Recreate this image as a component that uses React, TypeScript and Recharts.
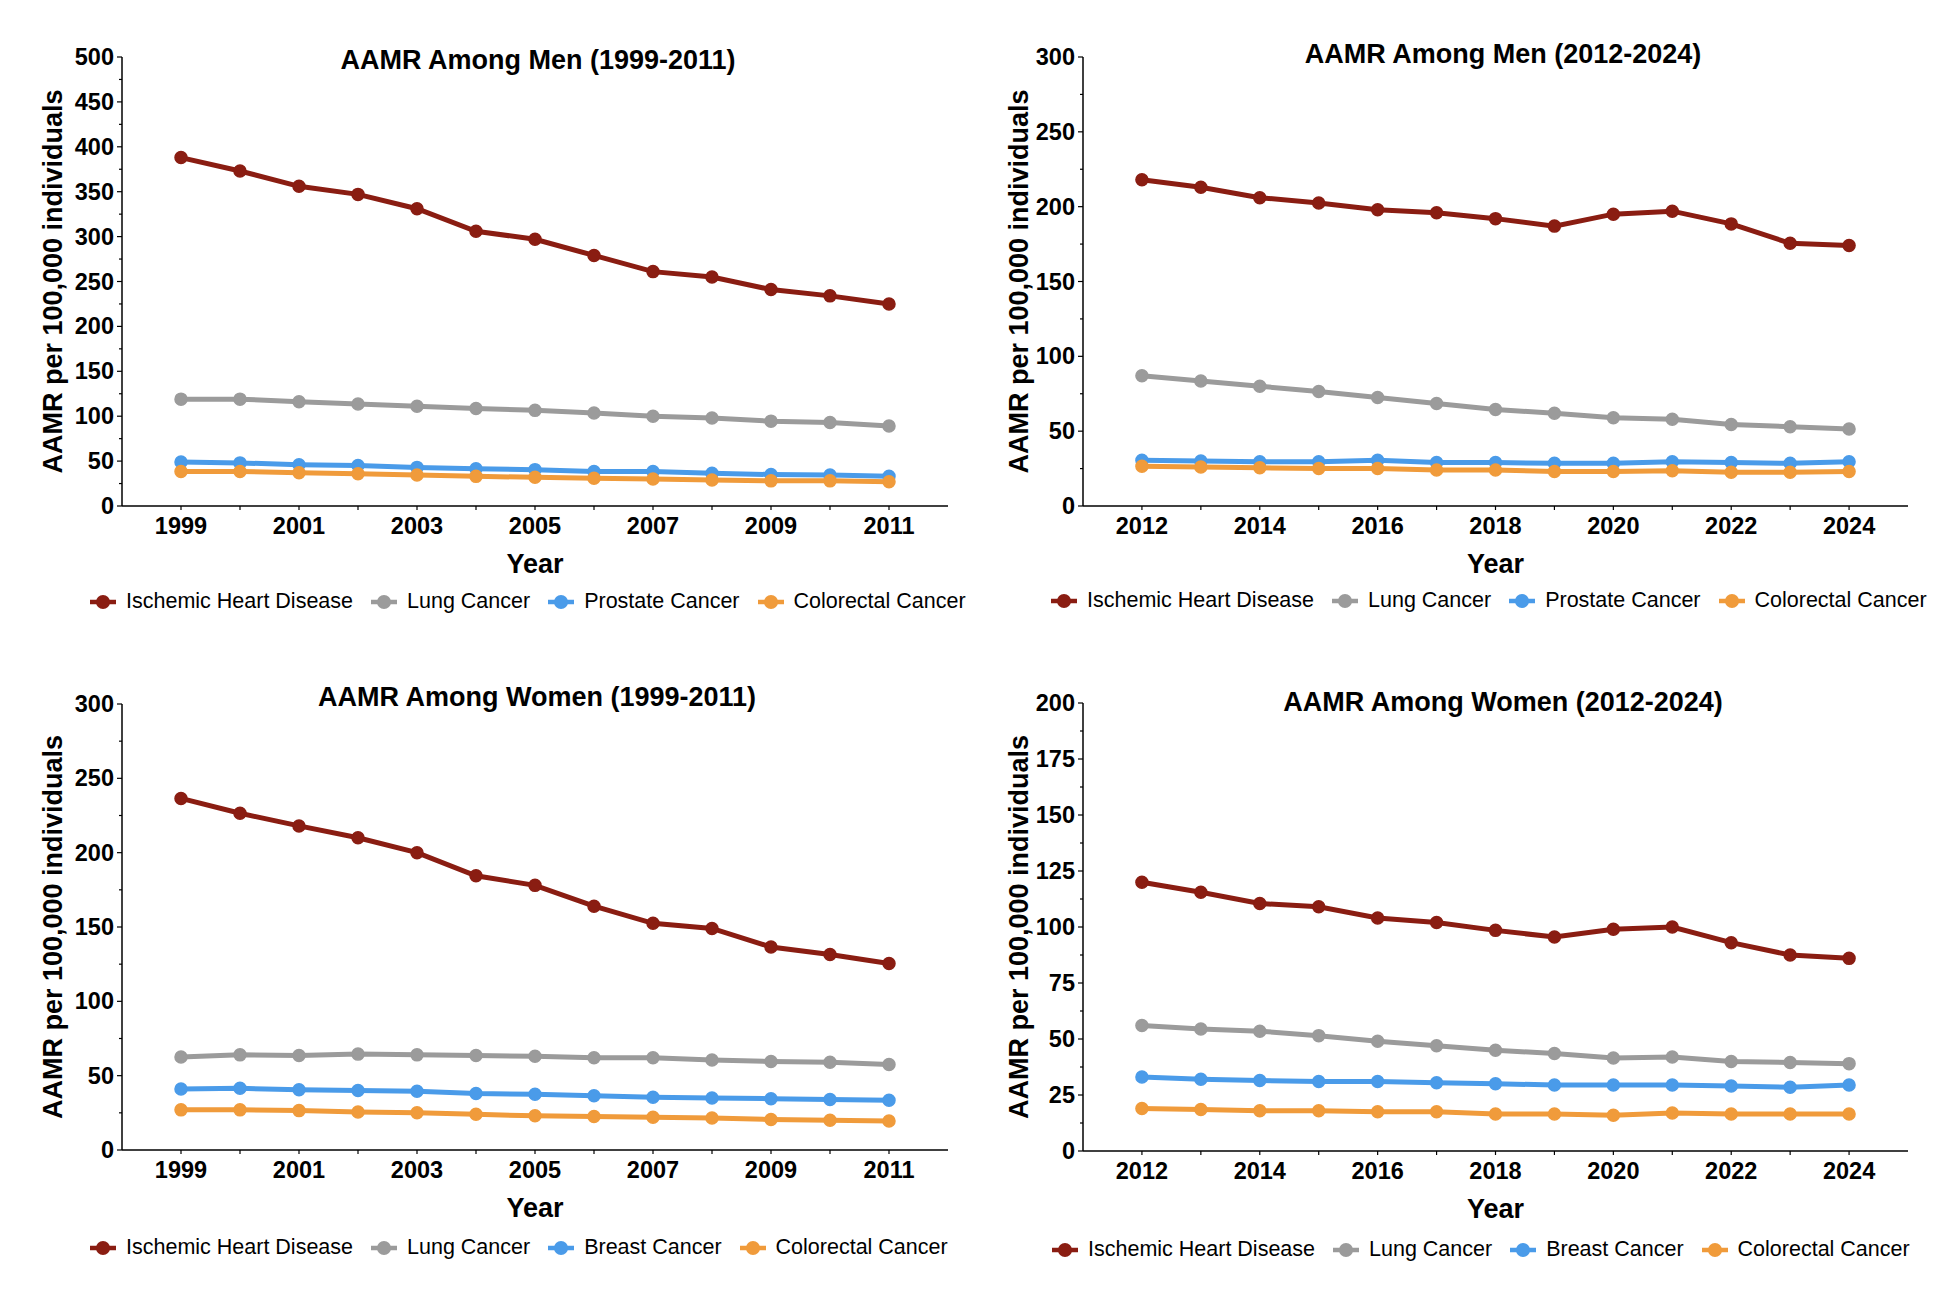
import { LineChart, Line, XAxis, YAxis, Legend } from "recharts";

const yearsEarly = [1999, 2000, 2001, 2002, 2003, 2004, 2005, 2006, 2007, 2008, 2009, 2010, 2011];
const yearsLate = [2012, 2013, 2014, 2015, 2016, 2017, 2018, 2019, 2020, 2021, 2022, 2023, 2024];

// Men 1999-2011
const menEarlyHeart = [388, 373, 356, 347, 331, 306, 297, 279, 261, 255, 241, 234, 225];
const menEarlyLung = [119, 119, 116, 113.5, 111, 108.5, 106.5, 103.5, 100, 98, 94.5, 93, 89];
const menEarlyProstate = [49, 48, 46, 45, 43, 41.5, 40.5, 38.5, 38.5, 36.5, 35, 34.5, 33];
const menEarlyColorectal = [38.5, 38.5, 37, 36, 34.5, 33, 32, 31, 30, 29, 28, 28, 27];

// Men 2012-2024
const menLateHeart = [218, 213, 206, 202.5, 198, 196, 192, 187, 195, 197, 188.5, 175.5, 174];
const menLateLung = [87, 83.5, 80, 76.5, 72.5, 68.5, 64.5, 62, 59, 58, 54.5, 53, 51.5];
const menLateProstate = [30.5, 30, 29.5, 29.5, 30.5, 29, 29, 28.5, 28.5, 29.5, 29, 28.5, 29.5];
const menLateColorectal = [26.5, 26, 25.5, 25, 25, 24, 24, 23, 23, 23.5, 22.5, 22.5, 23];

// Women 1999-2011
const womenEarlyHeart = [236.5, 226.5, 218, 210, 200, 184.5, 178, 164, 152.5, 149, 136.5, 131.5, 125.5];
const womenEarlyLung = [62.5, 64, 63.5, 64.5, 64, 63.5, 63, 62, 62, 60.5, 59.5, 59, 57.5];
const womenEarlyBreast = [41, 41.5, 40.5, 40, 39.5, 38, 37.5, 36.5, 35.5, 35, 34.5, 34, 33.5];
const womenEarlyColorectal = [27, 27, 26.5, 25.5, 25, 24, 23, 22.5, 22, 21.5, 20.5, 20, 19.5];

// Women 2012-2024
const womenLateHeart = [120, 115.5, 110.5, 109, 104, 102, 98.5, 95.5, 99, 100, 93, 87.5, 86];
const womenLateLung = [56, 54.5, 53.5, 51.5, 49, 47, 45, 43.5, 41.5, 42, 40, 39.5, 39];
const womenLateBreast = [33, 32, 31.5, 31, 31, 30.5, 30, 29.5, 29.5, 29.5, 29, 28.5, 29.5];
const womenLateColorectal = [19, 18.5, 18, 18, 17.5, 17.5, 16.5, 16.5, 16, 17, 16.5, 16.5, 16.5];

const menEarlyTicks = [0, 50, 100, 150, 200, 250, 300, 350, 400, 450, 500];
const menLateTicks = [0, 50, 100, 150, 200, 250, 300];
const womenEarlyTicks = [0, 50, 100, 150, 200, 250, 300];
const womenLateTicks = [0, 25, 50, 75, 100, 125, 150, 175, 200];

const COLORS = {
  heart: "#8a1d12",
  lung: "#9b9b9b",
  third: "#4a9be9",
  colorectal: "#f09b3b",
};

const FONT = "'Liberation Sans', Arial, Helvetica, sans-serif";
const W = 979;
const H = 653;
const XAXIS_H = 40;

function withMinors(majors: number[]) {
  const out: number[] = [];
  majors.forEach((v, i) => {
    out.push(v);
    if (i < majors.length - 1) out.push((v + majors[i + 1]) / 2);
  });
  return out;
}

function YTick(props: any) {
  const { x, y, payload, majors } = props;
  const major = majors.includes(payload.value);
  return (
    <g>
      <line x1={x - (major ? 5 : 3)} x2={x} y1={y} y2={y} stroke="#000" strokeWidth={1.2} />
      {major && (
        <text x={x - 8} y={y} textAnchor="end" dominantBaseline="central" fontSize={23.5} fontWeight={700} fontFamily={FONT} fill="#000">
          {payload.value}
        </text>
      )}
    </g>
  );
}

function XTick(props: any) {
  const { x, y, payload, first } = props;
  const labelled = (payload.value - first) % 2 === 0;
  return (
    <g>
      <line x1={x} x2={x} y1={y} y2={y + 4} stroke="#000" strokeWidth={1.2} />
      {labelled && (
        <text x={x} y={y + 20} textAnchor="middle" dominantBaseline="central" fontSize={23.5} fontWeight={700} fontFamily={FONT} fill="#000">
          {payload.value}
        </text>
      )}
    </g>
  );
}

function YTitle(props: any) {
  const { viewBox, gap } = props;
  const axisX = viewBox.x + viewBox.width;
  const cx = axisX - gap;
  const cy = viewBox.y + viewBox.height / 2;
  return (
    <text x={cx} y={cy} transform={`rotate(-90 ${cx} ${cy})`} textAnchor="middle" dominantBaseline="central" fontSize={27} fontWeight={700} fontFamily={FONT} fill="#000">
      AAMR per 100,000 individuals
    </text>
  );
}

function XTitle(props: any) {
  const { viewBox } = props;
  const cx = viewBox.x + viewBox.width / 2;
  const cy = viewBox.y + 58;
  return (
    <text x={cx} y={cy} textAnchor="middle" dominantBaseline="central" fontSize={27} fontWeight={700} fontFamily={FONT} fill="#000">
      Year
    </text>
  );
}

function LegendContent(props: any) {
  const items: { name: string; color: string }[] = props.items || [];
  return (
    <div style={{ display: "flex", alignItems: "center", fontFamily: FONT, fontSize: 21.5, color: "#000", whiteSpace: "nowrap" }}>
      {items.map((it) => (
        <div key={it.name} style={{ display: "flex", alignItems: "center", marginRight: 18 }}>
          <svg width={26} height={16} style={{ marginRight: 10 }}>
            <line x1={0} x2={26} y1={8} y2={8} stroke={it.color} strokeWidth={4.5} />
            <circle cx={13} cy={8} r={7} fill={it.color} />
          </svg>
          <span>{it.name}</span>
        </div>
      ))}
    </div>
  );
}

type PanelProps = {
  title: string;
  years: number[];
  heart: number[];
  lung: number[];
  third: number[];
  colorectal: number[];
  thirdName: string;
  ticks: number[];
  left: number;
  top: number;
  plot: { left: number; right: number; top: number; bottom: number };
  titlePos: { x: number; y: number };
  legendLeft: number;
  legendY: number;
  yTitleGap: number;
};

function Panel(p: PanelProps) {
  const data = p.years.map((year, i) => ({
    year,
    heart: p.heart[i],
    lung: p.lung[i],
    third: p.third[i],
    colorectal: p.colorectal[i],
  }));
  const first = p.years[0];
  const last = p.years[p.years.length - 1];
  const yMax = p.ticks[p.ticks.length - 1];
  const dot = (c: string) => ({ r: 6, fill: c, stroke: c, strokeWidth: 1.5 });
  const series = [
    { key: "heart", name: "Ischemic Heart Disease", color: COLORS.heart },
    { key: "lung", name: "Lung Cancer", color: COLORS.lung },
    { key: "third", name: p.thirdName, color: COLORS.third },
    { key: "colorectal", name: "Colorectal Cancer", color: COLORS.colorectal },
  ];
  return (
    <div style={{ position: "absolute", left: p.left, top: p.top, width: W, height: H }}>
      <LineChart
        width={W}
        height={H}
        data={data}
        margin={{ top: p.plot.top, right: W - p.plot.right, left: 0, bottom: H - p.plot.bottom - XAXIS_H }}
      >
        <XAxis
          dataKey="year"
          type="number"
          domain={[first - 1, last + 1]}
          ticks={p.years}
          interval={0}
          height={XAXIS_H}
          tickSize={0}
          tickMargin={0}
          tickLine={false}
          axisLine={{ stroke: "#000", strokeWidth: 1.5 }}
          tick={<XTick first={first} />}
          label={<XTitle />}
        />
        <YAxis
          type="number"
          domain={[0, yMax]}
          ticks={withMinors(p.ticks)}
          interval={0}
          width={p.plot.left}
          tickSize={0}
          tickMargin={0}
          tickLine={false}
          axisLine={{ stroke: "#000", strokeWidth: 1.5 }}
          tick={<YTick majors={p.ticks} />}
          label={<YTitle gap={p.yTitleGap} />}
        />
        <Legend
          layout="horizontal"
          verticalAlign="middle"
          align="center"
          content={<LegendContent items={series} />}
          wrapperStyle={{ left: p.legendLeft, top: p.legendY - 14, width: W - p.legendLeft, height: 28 }}
        />
        {series.map((s) => (
          <Line
            key={s.key}
            type="linear"
            dataKey={s.key}
            name={s.name}
            stroke={s.color}
            strokeWidth={5}
            dot={dot(s.color)}
            activeDot={false}
            isAnimationActive={false}
          />
        ))}
      </LineChart>
      <div
        style={{
          position: "absolute",
          left: p.titlePos.x - 350,
          top: p.titlePos.y - 16,
          width: 700,
          lineHeight: "32px",
          textAlign: "center",
          fontFamily: FONT,
          fontWeight: 700,
          fontSize: 27,
          color: "#000",
        }}
      >
        {p.title}
      </div>
    </div>
  );
}

export default function App() {
  return (
    <div style={{ position: "absolute", left: 0, top: 0, width: 1958, height: 1306, background: "#fff" }}>
      <Panel
        title="AAMR Among Men (1999-2011)"
        years={yearsEarly}
        heart={menEarlyHeart}
        lung={menEarlyLung}
        third={menEarlyProstate}
        colorectal={menEarlyColorectal}
        thirdName="Prostate Cancer"
        ticks={menEarlyTicks}
        left={0}
        top={0}
        plot={{ left: 122, right: 948, top: 57, bottom: 506 }}
        titlePos={{ x: 538, y: 60 }}
        legendLeft={90}
        legendY={603}
        yTitleGap={69}
      />
      <Panel
        title="AAMR Among Men (2012-2024)"
        years={yearsLate}
        heart={menLateHeart}
        lung={menLateLung}
        third={menLateProstate}
        colorectal={menLateColorectal}
        thirdName="Prostate Cancer"
        ticks={menLateTicks}
        left={979}
        top={0}
        plot={{ left: 104, right: 929, top: 57, bottom: 506 }}
        titlePos={{ x: 524, y: 54 }}
        legendLeft={72}
        legendY={602}
        yTitleGap={64}
      />
      <Panel
        title="AAMR Among Women (1999-2011)"
        years={yearsEarly}
        heart={womenEarlyHeart}
        lung={womenEarlyLung}
        third={womenEarlyBreast}
        colorectal={womenEarlyColorectal}
        thirdName="Breast Cancer"
        ticks={womenEarlyTicks}
        left={0}
        top={653}
        plot={{ left: 122, right: 948, top: 51, bottom: 497 }}
        titlePos={{ x: 537, y: 44 }}
        legendLeft={90}
        legendY={596}
        yTitleGap={69}
      />
      <Panel
        title="AAMR Among Women (2012-2024)"
        years={yearsLate}
        heart={womenLateHeart}
        lung={womenLateLung}
        third={womenLateBreast}
        colorectal={womenLateColorectal}
        thirdName="Breast Cancer"
        ticks={womenLateTicks}
        left={979}
        top={653}
        plot={{ left: 104, right: 929, top: 50, bottom: 498 }}
        titlePos={{ x: 524, y: 49 }}
        legendLeft={73}
        legendY={598}
        yTitleGap={64}
      />
    </div>
  );
}
